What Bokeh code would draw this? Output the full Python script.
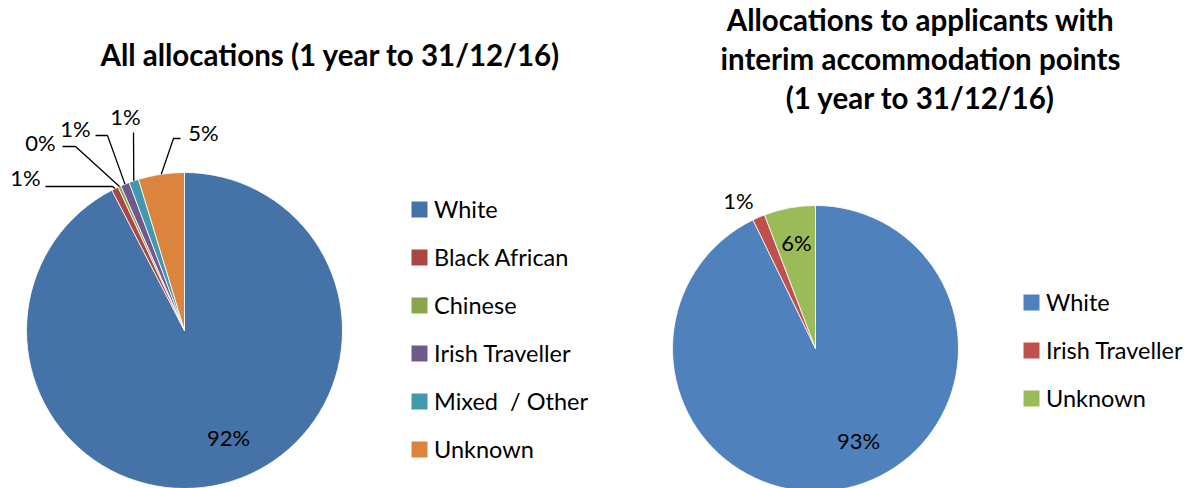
import numpy as np
from bokeh.plotting import figure
from bokeh.models import Range1d, Legend, LegendItem, ColumnDataSource
from bokeh.core.properties import value
from bokeh.embed import file_html
from bokeh.resources import INLINE

# ---------------- data ----------------
left_title = ["All allocations (1 year to 31/12/16)"]
left_categories = ["White", "Black African", "Chinese", "Irish Traveller", "Mixed  / Other", "Unknown"]
left_values = [92.4, 0.7, 0.3, 0.9, 1.0, 4.7]
left_labels = ["92%", "1%", "0%", "1%", "1%", "5%"]
left_colors = ["#4572A7", "#AA4643", "#89A54E", "#71588F", "#4198AF", "#DB843D"]

right_title = ["Allocations to applicants with", "interim accommodation points", "(1 year to 31/12/16)"]
right_categories = ["White", "Irish Traveller", "Unknown"]
right_values = [92.8, 1.4, 5.8]
right_labels = ["93%", "1%", "6%"]
right_colors = ["#4F81BD", "#C0504D", "#9BBB59"]

# ---------------- layout (pixels) ----------------
W, H = 1200, 488
FONT = "Lato"
LEFT_C, LEFT_R = (184, 158), 158
RIGHT_C, RIGHT_R = (815, 140), 143
# label placement: (dx, dy) of text centre from pie centre; elbow (dx, dy) or None
left_label_pos = [(44, -107), (-159, 153), (-144, 188), (-109, 202), (-59, 214), (19, 198)]
left_elbows = [None, [(-139, 144), (-72, 144)], [(-122, 184), (-109, 184)],
               [(-89, 195), (-77, 195)], [(-51, 198), (-51, 198)], [(-4, 192), (-11, 192)]]
right_label_pos = [(43, -92), (-77, 148), (-19, 106)]


def pie_angles(vals):
    v = np.asarray(vals, dtype=float)
    frac = v / v.sum()
    cum = np.concatenate([[0.0], np.cumsum(frac)])
    start = np.pi / 2 - cum[1:] * 2 * np.pi
    end = np.pi / 2 - cum[:-1] * 2 * np.pi
    mid = (start + end) / 2
    return start, end, mid


p = figure(width=W, height=H, x_range=Range1d(0, W), y_range=Range1d(0, H),
           output_backend="svg", toolbar_location=None, min_border=0,
           outline_line_color=None)
p.axis.visible = False
p.grid.visible = False
p.background_fill_color = "white"


def draw_pie(center, r, cats, vals, colors, labels, label_pos, elbows):
    start, end, mid = pie_angles(vals)
    src = ColumnDataSource(dict(x=[center[0]] * len(vals), y=[center[1]] * len(vals),
                                start=start, end=end, color=colors))
    p.wedge(x="x", y="y", radius=r, start_angle="start", end_angle="end",
            fill_color="color", line_color="white", line_width=0.8, source=src)
    tx, ty = [], []
    for i, (dx, dy) in enumerate(label_pos):
        tx.append(center[0] + dx)
        ty.append(center[1] + dy)
        if elbows is not None and elbows[i] is not None:
            ex = [center[0] + r * np.cos(mid[i])] + [center[0] + e[0] for e in reversed(elbows[i])]
            ey = [center[1] + r * np.sin(mid[i])] + [center[1] + e[1] for e in reversed(elbows[i])]
            p.line(ex, ey, line_color="black", line_width=1.3)
    p.text(x=tx, y=ty, text=labels, text_font=value(FONT), text_font_size="22px",
           text_align="center", text_baseline="middle", text_color="black")


draw_pie(LEFT_C, LEFT_R, left_categories, left_values, left_colors, left_labels,
         left_label_pos, left_elbows)
draw_pie(RIGHT_C, RIGHT_R, right_categories, right_values, right_colors, right_labels,
         right_label_pos, None)

# titles
p.text(x=[330], y=[434], text=left_title, text_font=value(FONT), text_font_style="bold",
       text_font_size="29.5px", text_align="center", text_baseline="middle", text_color="black")
p.text(x=[920] * 3, y=[469, 430, 391], text=right_title, text_font=value(FONT),
       text_font_style="bold", text_font_size="29.5px", text_align="center",
       text_baseline="middle", text_color="black")


def make_legend(cats, colors, loc):
    items = []
    for c, col in zip(cats, colors):
        r = p.rect(x=[np.nan], y=[np.nan], width=1, height=1, fill_color=col, line_color=None)
        items.append(LegendItem(label=c, renderers=[r]))
    lg = Legend(items=items, location=loc, orientation="vertical",
                label_text_font=FONT, label_text_font_size="23.5px", label_text_color="black",
                glyph_width=20, glyph_height=20, label_standoff=5, spacing=20,
                label_height=24, padding=0, margin=0, border_line_color=None,
                background_fill_alpha=0)
    p.add_layout(lg, "center")


make_legend(left_categories, left_colors, (409, 25))
make_legend(right_categories, right_colors, (1021, 76))

open("out.html", "w").write(file_html(p, INLINE))
